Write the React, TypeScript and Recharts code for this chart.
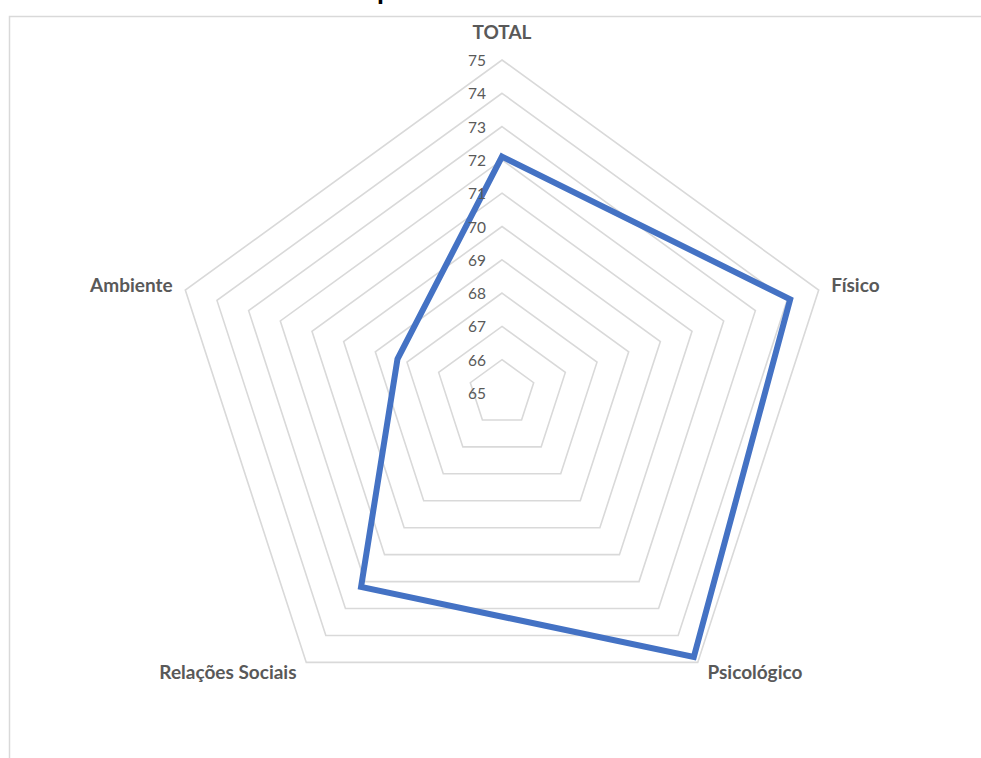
import { RadarChart, Radar, PolarGrid, PolarAngleAxis, PolarRadiusAxis } from 'recharts';

// domínios avaliados e pontuação média de cada um
const dominios = ['TOTAL', 'Físico', 'Psicológico', 'Relações Sociais', 'Ambiente'];
const medias = [72.1, 74.1, 74.8, 72.2, 68.3];
const escala = [65, 75];

const data = dominios.map((d, i) => ({ dominio: d, media: medias[i] }));

const FONT = 'Lato, "Open Sans", sans-serif';
const CX = 502;
const CY = 393;

// rótulos dos eixos (TOTAL, Físico...) um pouco afastados do polígono externo
const AngleTick = (props: any) => {
  const { x, y, textAnchor, payload } = props;
  let dx = 0;
  let dy = 0;
  if (textAnchor === 'middle') dy = -21;
  else {
    dx = textAnchor === 'start' ? 5 : -5;
    dy = y < CY ? -3 : 3;
  }
  return (
    <text
      x={x + dx}
      y={y + dy}
      textAnchor={textAnchor}
      dominantBaseline="central"
      fontFamily={FONT}
      fontWeight={700}
      fontSize={19}
      fill="#595959"
    >
      {payload.value}
    </text>
  );
};

// valores da escala à esquerda do eixo vertical
const RadiusTick = (props: any) => {
  const { x, y, payload } = props;
  return (
    <text
      x={x - 16}
      y={y}
      textAnchor="end"
      dominantBaseline="central"
      fontFamily={FONT}
      fontSize={15.5}
      fill="#595959"
    >
      {payload.value}
    </text>
  );
};

export default function App() {
  return (
    <div style={{ position: 'absolute', left: 0, top: 0, width: 981, height: 758, background: '#fff', overflow: 'hidden' }}>
      <svg width={981} height={758} style={{ position: 'absolute', left: 0, top: 0 }}>
        <text x={377} y={-1} fontFamily={FONT} fontWeight={700} fontSize={28} fill="#000">
          p
        </text>
        <rect x={9.5} y={16.5} width={1100} height={900} fill="none" stroke="#d9d9d9" strokeWidth={1.5} />
      </svg>
      <div style={{ position: 'absolute', left: 0, top: 0 }}>
        <RadarChart
          width={981}
          height={758}
          data={data}
          cx={CX}
          cy={CY}
          outerRadius={333}
          margin={{ top: 0, right: 0, bottom: 0, left: 0 }}
        >
          <PolarGrid gridType="polygon" radialLines={false} stroke="#d9d9d9" strokeWidth={1.6} />
          <PolarAngleAxis dataKey="dominio" tickLine={false} axisLine={false} tick={AngleTick} />
          <PolarRadiusAxis
            angle={90}
            domain={escala}
            tickCount={11}
            axisLine={false}
            tickLine={false}
            tick={RadiusTick}
          />
          <Radar
            dataKey="media"
            stroke="#4472c4"
            strokeWidth={6}
            fill="none"
            fillOpacity={0}
            dot={false}
            isAnimationActive={false}
          />
        </RadarChart>
      </div>
    </div>
  );
}
